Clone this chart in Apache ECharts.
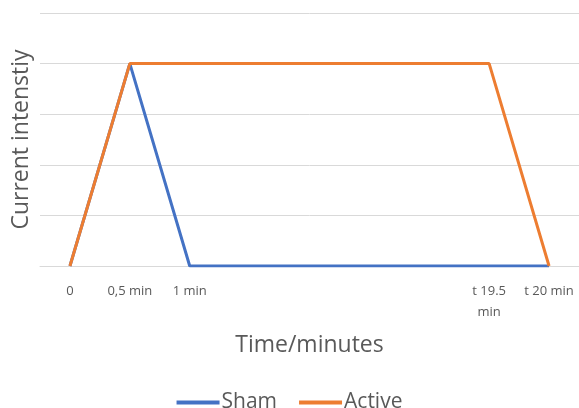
<!DOCTYPE html>
<html><head><meta charset="utf-8">
<script src="https://cdn.jsdelivr.net/npm/echarts@6/dist/echarts.min.js"></script>
<style>html,body{margin:0;padding:0;background:#fff}#c{width:579px;height:408px}</style>
</head><body><div id="c"></div>
<script>
const categories = ["0", "0,5 min", "1 min", "", "", "", "", "t 19.5\nmin", "t 20 min"];
const shamValues = [0, 4, 0, 0, 0, 0, 0, 0, 0];
const activeValues = [0, 4, 4, 4, 4, 4, 4, 4, 0];
const yTicks = [0, 1, 2, 3, 4, 5];

const font = "'Open Sans', sans-serif";
const chart = echarts.init(document.getElementById('c'));
chart.setOption({
  animation: false,
  backgroundColor: '#fff',
  grid: {left: 40, right: 0, top: 13, bottom: 142, containLabel: false, outerBoundsMode: 'none'},
  xAxis: {
    type: 'category', data: categories, boundaryGap: true,
    axisLine: {show: true, lineStyle: {color: '#d9d9d9', width: 1}},
    axisTick: {show: false},
    axisLabel: {color: '#595959', fontSize: 13, fontFamily: font, margin: 15, lineHeight: 21, interval: 0},
    name: 'Time/minutes', nameLocation: 'middle', nameGap: 68,
    nameTextStyle: {color: '#595959', fontSize: 23, fontFamily: font}
  },
  yAxis: {
    type: 'value', min: yTicks[0], max: yTicks[yTicks.length - 1], interval: 1,
    axisLabel: {show: false}, axisLine: {show: false}, axisTick: {show: false},
    splitLine: {lineStyle: {color: '#d9d9d9', width: 1}},
    name: 'Current intenstiy', nameLocation: 'middle', nameGap: 7, nameRotate: 90,
    nameTextStyle: {color: '#595959', fontSize: 23, fontFamily: font}
  },
  legend: {
    top: 387, left: 'center', itemWidth: 43, itemHeight: 4, itemGap: 22, icon: 'rect',
    textStyle: {color: '#595959', fontSize: 21, fontFamily: font, padding: [0, 0, 0, -3]},
    data: ['Sham', 'Active']
  },
  series: [
    {name: 'Sham', type: 'line', data: shamValues, showSymbol: false, symbol: 'none',
     lineStyle: {color: '#4472C4', width: 3}, itemStyle: {color: '#4472C4'}, z: 2},
    {name: 'Active', type: 'line', data: activeValues, showSymbol: false, symbol: 'none',
     lineStyle: {color: '#ED7D31', width: 3}, itemStyle: {color: '#ED7D31'}, z: 3}
  ]
});
</script></body></html>
